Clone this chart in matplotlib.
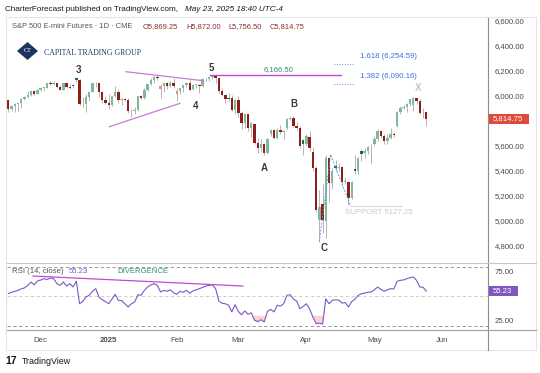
import numpy as np
import matplotlib
matplotlib.use('Agg')
import matplotlib.pyplot as plt
from matplotlib.patches import Rectangle, Polygon
from matplotlib.lines import Line2D
from matplotlib.transforms import blended_transform_factory

# ES daily bars, Nov 15 2024 .. May 23 2025
opens = [5965, 5893, 5914, 5937, 5938, 5970, 5990, 6004, 6038, 6016,
         6049, 6062, 6064, 6102, 6090, 6105, 6068, 6049, 6099, 6066,
         6083, 6145, 6125, 5934, 5935, 5990, 6033, 6100, 6098, 6032, 5968,
         5942, 5925, 5996, 6028, 5962, 5972, 5965, 5880, 5874, 5886,
         5994, 5980, 6042, 6090, 6124, 6150, 6050, 6080, 6098, 6076, 6100,
         6010, 6040, 6060, 6082, 6100, 6050, 6086, 6088, 6075, 6130,
         6132, 6146, 6160, 6140, 6040, 6005, 5975, 5980, 5882,
         5965, 5860, 5785, 5850, 5745, 5770, 5625, 5580, 5610, 5540,
         5695, 5725, 5665, 5725, 5710, 5740, 5815, 5825, 5760, 5744, 5646,
         5612, 5672, 5550, 5420, 5005, 5130, 5000, 5500, 5300, 5440,
         5425, 5430, 5310, 5310, 5180, 5415, 5395, 5558, 5540, 5555, 5600,
         5610, 5650, 5715, 5680, 5635, 5660, 5690, 5760, 5866, 5905,
         5912, 5935, 5926, 5979, 5955, 5862, 5869.25]
highs = [5968, 5925, 5940, 5942, 5985, 5994, 6040, 6040, 6042, 6056,
         6068, 6070, 6104, 6114, 6115, 6105, 6082, 6105, 6100, 6092,
         6090, 6152, 6135, 5992, 6010, 6040, 6102, 6111, 6100, 6034, 5995,
         6010, 5998, 6074, 6055, 5982, 5985, 5980, 5893, 5912, 6000,
         6008, 6060, 6096, 6145, 6158, 6164, 6095, 6112, 6110, 6120, 6145,
         6060, 6065, 6085, 6110, 6125, 6090, 6095, 6096, 6135, 6145,
         6150, 6166.5, 6162, 6150, 6060, 6015, 6025, 6005, 5970,
         5995, 5875, 5865, 5855, 5790, 5772, 5660, 5650, 5620, 5660,
         5735, 5730, 5745, 5765, 5725, 5820, 5835, 5835, 5790, 5755, 5655,
         5690, 5720, 5590, 5440, 5246, 5290, 5528.75, 5510, 5420, 5485,
         5460, 5440, 5340, 5320, 5320, 5525, 5510, 5570, 5580, 5595, 5610,
         5680, 5730, 5720, 5690, 5690, 5740, 5710, 5875, 5920, 5925,
         5945, 5975, 5990, 5985, 5975, 5905, 5872]
lows = [5872, 5880, 5872, 5880, 5903, 5962, 5982, 6000, 6002, 6014,
        6035, 6040, 6058, 6086, 6088, 6062, 6042, 6045, 6062, 6050,
        6058, 6110, 5925, 5912, 5866, 5960, 6030, 6070, 5993, 5940, 5930,
        5890, 5920, 5990, 5942, 5927, 5955, 5860, 5830, 5850, 5880,
        5970, 5975, 6035, 6085, 6105, 6122, 5980, 6030, 6050, 6068, 6064,
        5960, 6015, 6030, 6070, 6040, 6045, 6060, 6020, 6070, 6120,
        6120, 6130, 6100, 6025, 5995, 5940, 5955, 5875, 5850,
        5830, 5735, 5740, 5715, 5670, 5610, 5540, 5560, 5526, 5535,
        5680, 5655, 5655, 5690, 5655, 5735, 5805, 5750, 5725, 5585, 5525,
        5600, 5560, 5400, 5070, 4832, 4900, 4860, 5150, 5250, 5395,
        5400, 5280, 5290, 5127.25, 5170, 5370, 5370, 5480, 5500, 5530, 5450,
        5600, 5640, 5660, 5615, 5610, 5650, 5670, 5750, 5855, 5890,
        5870, 5920, 5880, 5930, 5850, 5820, 5756.5]
closes = [5893, 5914, 5937, 5938, 5970, 5990, 6004, 6038, 6016, 6049,
          6062, 6064, 6102, 6090, 6105, 6068, 6049, 6099, 6066, 6065,
          6078, 6125, 5934, 5930, 5990, 6033, 6100, 6098, 6032, 5968, 5942,
          5925, 5996, 6028, 5962, 5972, 5965, 5880, 5874, 5886, 5994,
          5980, 6042, 6090, 6124, 6150, 6140, 6080, 6098, 6076, 6100, 6080,
          6040, 6060, 6082, 6100, 6045, 6086, 6088, 6075, 6130, 6132,
          6146, 6160, 6140, 6035, 6005, 5975, 5975, 5882, 5965,
          5860, 5785, 5850, 5745, 5778, 5625, 5580, 5610, 5540, 5650,
          5725, 5665, 5725, 5710, 5715, 5815, 5825, 5760, 5740, 5600, 5612,
          5675, 5585, 5420, 5085, 5110, 5005, 5500, 5300, 5400, 5425,
          5430, 5310, 5315, 5180, 5310, 5395, 5505, 5535, 5555, 5590, 5595,
          5650, 5715, 5680, 5635, 5660, 5690, 5685, 5866, 5905, 5912,
          5935, 5972, 5979, 5955, 5862, 5858, 5814.75]
rsi = [52.6, 54, 55, 56, 57.5, 58.5, 61, 64.5, 61.7, 65.5,
       66.5, 67.9, 67, 68.6, 68, 62.8, 61.1, 64.5, 60.4, 62.8,
       59.4, 65.2, 42.3, 44.8, 49.2, 51, 55, 57.7, 49, 46.5,
       44.5, 42.3, 47, 51.9, 45.8, 45.5, 42.3, 39, 42.3, 44,
       51.5, 51, 56, 59.4, 61.5, 62.8, 61.1, 54.3, 56, 55,
       56.5, 53.6, 51.9, 55, 54, 56, 53, 55.5, 56.5, 57.7,
       59, 60.4, 61, 61.7, 57.7, 45, 42.8, 42.3, 40.7, 34,
       41.3, 34.5, 31, 35, 31.5, 33, 25.5, 24, 26, 23.7,
       34.6, 36.5, 34, 40.7, 40, 42.3, 50.9, 51.5, 47, 45,
       37.2, 39.5, 42.3, 37, 28.8, 22, 22.5, 21.5, 47.4, 42.3,
       45.8, 46.3, 46, 43, 43.5, 39, 44.5, 47, 50.9, 52.5,
       53.3, 54, 54.3, 56.5, 59.4, 57, 55, 56.5, 57.7, 57.3,
       65.2, 66.2, 66.6, 67.9, 69, 69.6, 66.2, 59.4, 59.2, 55.23]

month_bars = [10, 31, 52, 71, 92, 113, 134]
month_labels = ['Dec', '2025', 'Feb', 'Mar', 'Apr', 'May', 'Jun']
# 5,800 sits under the last-price tag, so it is left out
price_ticks = [4800, 5000, 5200, 5400, 5600, 6000, 6200, 6400, 6600]

# wave labels (bar, price, text)
wave_bars = [21.8, 57.9, 62.8, 78.9, 88.2, 97.4, 126.4]
wave_prices = [6206, 5918, 6224, 5422, 5934, 4782, 6062]
wave_texts = ['3', '4', '5', 'A', 'B', 'C', 'X']

# trend-based fib extension anchors: C low, Apr 9 high, support low
fib_bars = [96, 99.5, 105.5]
fib_prices = [4832, 5528.75, 5127.25]
fib_ratios = [1.382, 1.618]

W, H = 540, 373


def fx(x):
    return x / W


def fy(y):
    return 1 - y / H


plt.rcParams['font.family'] = ['Liberation Sans', 'DejaVu Sans']
fig = plt.figure(figsize=(W / 100, H / 100), dpi=100)

ax = fig.add_axes([fx(6.7), fy(263), fx(488) - fx(6.7), fy(17.5) - fy(263)])
rx = fig.add_axes([fx(6.7), fy(330), fx(488) - fx(6.7), fy(263) - fy(330)])

x = np.arange(len(closes))
o, hi, lo, c = (np.array(a, dtype=float) for a in (opens, highs, lows, closes))
prev = np.r_[o[0], c[:-1]]
up = c >= prev
hollow = c > o
cols = np.where(up, np.where(hollow, '#7fb99b', '#1f6b43'),
                np.where(hollow, '#e58a80', '#8e1f17'))

ax.vlines(x, lo, hi, color='#a8a8a8', lw=0.6, zorder=2)
ax.bar(x, np.maximum(np.abs(c - o), 4), bottom=np.minimum(o, c), width=0.74,
       color=cols, lw=0, zorder=3)

ax.set_xlim(-0.49, 148.06)
ax.set_ylim(4661.6, 6625.6)
ax.yaxis.tick_right()
ax.set_yticks(price_ticks)
ax.set_yticklabels([f'{v:,.2f}' for v in price_ticks])
ax.tick_params(axis='y', length=0, pad=5, labelsize=5.6, labelcolor='#4a4a4a')
ax.set_xticks([])
for s in ax.spines.values():
    s.set_visible(False)

# drawings on price pane
mag = '#c04ad2'
ax.plot([36.3, 60.2], [6192, 6120], color='#c97ad8', lw=0.9, zorder=4)
ax.plot([31.2, 53.0], [5752, 5939], color='#c97ad8', lw=0.9, zorder=4)
ax.plot([62.4, 102.7], [6166.5, 6166.5], color=mag, lw=1.0, zorder=4)
ax.text(83.5, 6210, '6,166.50', color='#2f8f77', fontsize=5.6, ha='center', va='center')

ax.plot(fib_bars, fib_prices, color='#6a95ee', lw=0.7, ls=(0, (2, 1.5)), zorder=5)
span = fib_prices[1] - fib_prices[0]
for r in fib_ratios:
    lvl = fib_prices[2] + r * span
    ax.plot([100.5, 106.4], [lvl, lvl], color='#6a95ee', lw=0.7, ls=':', zorder=4)
    ax.text(108.5, lvl + 60, f'{r:.3f} ({lvl:,.2f})', color='#3d6fe0', fontsize=5.6,
            va='center')

ax.plot([105.5, 121.5], [5118, 5118], color='#d6d6d6', lw=0.7)
ax.text(104, 5062, 'SUPPORT 5127.25', color='#c9c9c9', fontsize=5.6, va='center')

for bx, py, t in zip(wave_bars, wave_prices, wave_texts):
    ax.text(bx, py, t, fontsize=7, fontweight='bold', ha='center', va='center',
            color='#c4c4c4' if t == 'X' else '#3a3a3a')

# RSI pane
rsi_a = np.array(rsi)
rx.plot(x, rsi_a, color='#7e57c2', lw=0.8, zorder=3)
rx.fill_between(x, rsi_a, 30, where=rsi_a < 30, interpolate=True,
                color='#fbd3d6', lw=0, zorder=2)
rx.axhline(80, color='#8a8a8a', lw=0.6, ls=(0, (4, 3)))
rx.axhline(50, color='#c6c6c6', lw=0.6, ls=(0, (4, 3)))
rx.axhline(20, color='#8a8a8a', lw=0.6, ls=(0, (4, 3)))
rx.plot([7.6, 72.4], [70.6, 60.4], color=mag, lw=0.9, zorder=4)
rx.set_xlim(-0.49, 148.06)
rx.set_ylim(15.5, 83.9)
rx.yaxis.tick_right()
rx.set_yticks([25, 75])
rx.set_yticklabels(['25.00', '75.00'])
rx.tick_params(axis='y', length=0, pad=5, labelsize=5.6, labelcolor='#4a4a4a')
rx.set_xticks(month_bars)
rx.set_xticklabels(month_labels)
rx.tick_params(axis='x', length=0, pad=5, labelsize=5.6, labelcolor='#4a4a4a')
rx.get_xticklabels()[1].set_fontweight('bold')
for s in rx.spines.values():
    s.set_visible(False)

rx.text(0.012, 0.87, 'RSI (14, close)', transform=rx.transAxes, fontsize=5.6,
        color='#555555', va='center')
rx.text(0.128, 0.87, '55.23', transform=rx.transAxes, fontsize=5.6,
        color='#7e57c2', va='center')
rx.text(0.23, 0.87, 'DIVERGENCE', transform=rx.transAxes, fontsize=5.6,
        color='#2f8f77', va='center')

# last value tags on the scales
tp = blended_transform_factory(fig.transFigure, ax.transData)
ax.add_patch(Rectangle((fx(488), closes[-1] - 40), 41 / W, 80, transform=tp,
                       fc='#e04a3d', ec='none', clip_on=False, zorder=6))
ax.text(fx(492.5), closes[-1], f'{closes[-1]:,.2f}', transform=tp, color='white',
        fontsize=5.6, va='center', clip_on=False, zorder=7)
tr = blended_transform_factory(fig.transFigure, rx.transData)
rx.add_patch(Rectangle((fx(488), rsi[-1] - 5.1), 30 / W, 10.2, transform=tr,
                       fc='#7e57c2', ec='none', clip_on=False, zorder=6))
rx.text(fx(492.5), rsi[-1], f'{rsi[-1]:.2f}', transform=tr, color='white',
        fontsize=5.6, va='center', clip_on=False, zorder=7)

# frame and separators
fig.add_artist(Rectangle((fx(6), fy(350)), fx(536) - fx(6), fy(17) - fy(350),
                         transform=fig.transFigure, fill=False, ec='#e3e5ea', lw=0.8))
fig.add_artist(Line2D([fx(488), fx(488)], [fy(17.5), fy(350)], color='#8c8c8c', lw=0.8))
fig.add_artist(Line2D([fx(6.7), fx(536)], [fy(263), fy(263)], color='#c8c8c8', lw=0.8))
fig.add_artist(Line2D([fx(6.7), fx(536)], [fy(330), fy(330)], color='#a0a0a0', lw=0.8))

# header and legend
fig.text(fx(5), fy(9.5), 'CharterForecast published on TradingView.com, ', fontsize=5.9,
         color='#131722', va='center')
fig.text(fx(185), fy(9.5), 'May 23, 2025 18:40 UTC-4', fontsize=5.9, style='italic',
         color='#131722', va='center')
fig.text(fx(12), fy(27), 'S&P 500 E-mini Futures · 1D · CME', fontsize=5.4,
         color='#555555', va='center')
for px, s in zip([143, 186, 228, 270],
                 ['O5,869.25', 'H5,872.00', 'L5,756.50', 'C5,814.75']):
    fig.text(fx(px), fy(27), s, fontsize=5.4, color='#8e2a2a', va='center')

# logo
navy = '#1d3461'
fig.add_artist(Polygon([(fx(17), fy(51)), (fx(27.5), fy(42)), (fx(38), fy(51)),
                        (fx(27.5), fy(60))], closed=True, fc=navy, ec='none',
                       transform=fig.transFigure))
fig.text(fx(27.5), fy(51), 'CT', fontsize=4.5, color='white', ha='center', va='center',
         family='Liberation Serif')
fig.text(fx(44), fy(53), 'CAPITAL TRADING GROUP', fontsize=5.6, color=navy,
         va='center', family='Liberation Serif')

# TradingView footer
fig.text(fx(5), fy(361), '17', fontsize=7.5, fontweight='heavy', color='#131722',
         va='center')
fig.text(fx(22), fy(361), 'TradingView', fontsize=6.4, color='#131722', va='center')

fig.savefig('out.png', dpi=100)
